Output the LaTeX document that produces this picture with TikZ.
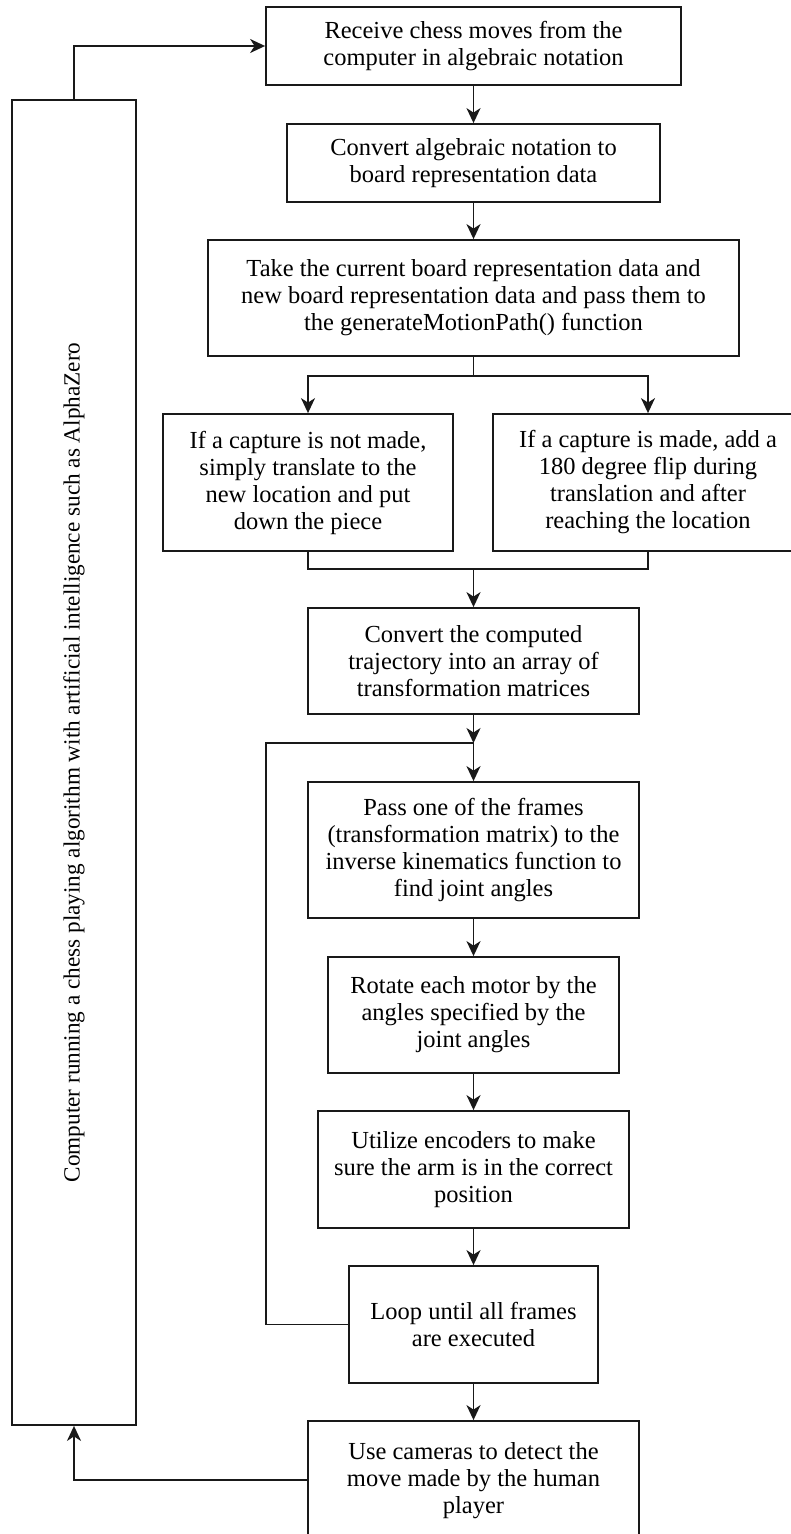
\documentclass[tikz,border=0pt]{standalone}
\usepackage{fontspec}
\setmainfont{Liberation Serif}
\usetikzlibrary{arrows.meta}
\begin{document}
\begin{tikzpicture}[x=1pt,y=-1pt,
  box/.style 2 args={draw=black!90, line width=1.8pt, align=center, inner sep=0pt,
    font=\fontsize{24.5}{27}\selectfont, text=black, minimum width=#1, minimum height=#2},
  ln/.style={line width=1.8pt, draw=black!90},
  arr/.style={ln, -{Stealth[length=15pt,width=14pt,inset=4.5pt]}}]
\useasboundingbox (0,0) rectangle (791,1534);
\clip (0,0) rectangle (791,1534);
\fill[white] (0,0) rectangle (791,1534);

\node[box={415}{78}] (b1) at (473.5,46) {Receive chess moves from the\\computer in algebraic notation};
\node[box={373}{78}] (b2) at (473.5,163) {Convert algebraic notation to\\board representation data};
\node[box={531}{116}] (b3) at (473.5,298) {Take the current board representation data and\\new board representation data and pass them to\\the generateMotionPath() function};
\node[box={290}{137}] (bl) at (308,482.5) {If a capture is not made,\\simply translate to the\\new location and put\\down the piece};
\node[box={310}{137}] (br) at (648,482.5) {If a capture is made, add a\\180 degree flip during\\translation and after\\reaching the location};
\node[box={331}{106}] (b4) at (473.5,661) {Convert the computed\\trajectory into an array of\\transformation matrices};
\node[box={331}{136}] (b5) at (473.5,850) {Pass one of the frames\\(transformation matrix) to the\\inverse kinematics function to\\find joint angles};
\node[box={291}{116}] (b6) at (473.5,1015) {Rotate each motor by the\\angles specified by the\\joint angles};
\node[box={311}{117}] (b7) at (473.5,1169.5) {Utilize encoders to make\\sure the arm is in the correct\\position};
\node[box={249}{117}] (b8) at (473.5,1324.5) {Loop until all frames\\are executed};
\node[box={331}{120}] (b9) at (473.5,1481) {Use cameras to detect the\\move made by the human\\player};
\node[draw=black!90, line width=1.8pt, minimum width=124pt, minimum height=1325pt, inner sep=0pt] (pc) at (74,762.5) {};
\node[rotate=90, text=black, font=\fontsize{23.2}{26}\selectfont] (pct) at (pc.center) {Computer running a chess playing algorithm with artificial intelligence such as AlphaZero};

\coordinate (split) at (473.5,376);
\coordinate (merge) at (473.5,569);
\coordinate (join) at (473.5,743);

\draw[arr] (b1) -- (b2);
\draw[arr] (b2) -- (b3);
\draw[ln] (b3.south) -- (split);
\draw[arr] (split) -| (bl.north);
\draw[arr] (split) -| (br.north);
\draw[ln] (bl.south) |- (merge) -| (br.south);
\draw[arr] (merge) -- (b4);
\draw[arr] (b4) -- (join);
\draw[arr] (join) -- (b5);
\draw[arr] (b5) -- (b6);
\draw[arr] (b6) -- (b7);
\draw[arr] (b7) -- (b8);
\draw[arr] (b8) -- (b9);
\draw[ln] (b8.west) -- ++(-82,0) |- (join);
\draw[arr] (b9.west |- 0,1480) -| (pc.south);
\draw[arr] (pc.north) |- (b1.west);
\end{tikzpicture}
\end{document}
